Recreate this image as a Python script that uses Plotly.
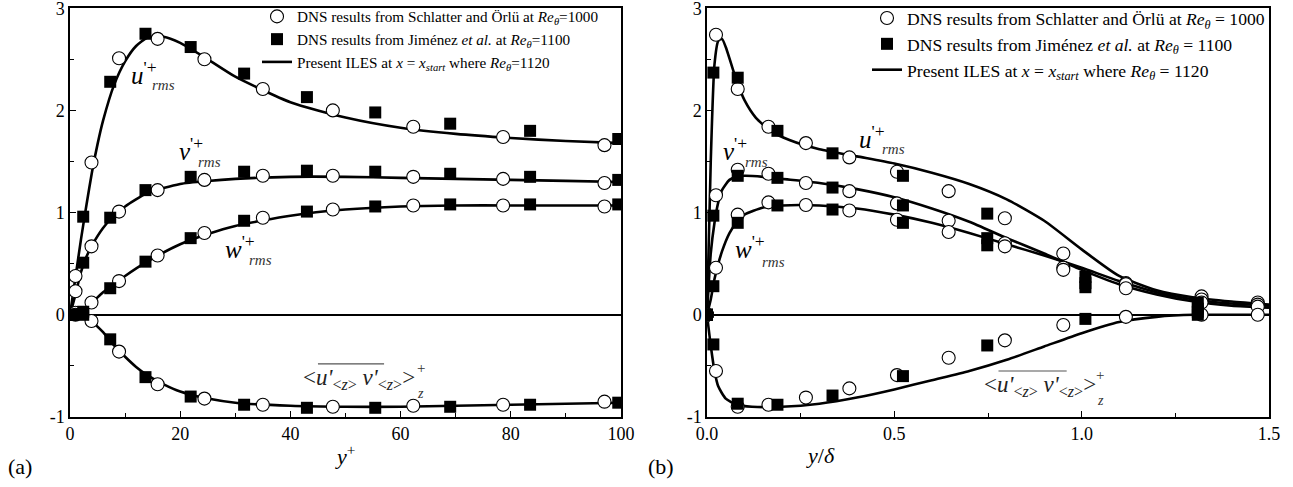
import plotly.graph_objects as go

# ---------------- (a) inner scaling, y+ ----------------
# Schlatter & Orlu DNS, Re_theta = 1000 (open circles)
yp_sch = [1.0, 3.9, 8.9, 15.9, 24.4, 35.0, 47.7, 62.3, 78.6, 97.0]
u_sch_a = [0.38, 1.49, 2.51, 2.70, 2.50, 2.21, 2.00, 1.84, 1.74, 1.66]
v_sch_a = [0.23, 0.67, 1.01, 1.22, 1.32, 1.36, 1.36, 1.35, 1.33, 1.29]
w_sch_a = [0.02, 0.12, 0.33, 0.58, 0.80, 0.95, 1.03, 1.07, 1.07, 1.06]
uv_sch_a = [0.0, -0.06, -0.36, -0.68, -0.82, -0.88, -0.90, -0.89, -0.88, -0.85]

# Jimenez et al. DNS, Re_theta = 1100 (filled squares)
yp_jim = [0.5, 2.4, 7.3, 13.7, 21.9, 31.6, 43.0, 55.4, 69.0, 83.5, 99.5]
u_jim_a = [0.0, 0.96, 2.28, 2.75, 2.62, 2.36, 2.13, 1.98, 1.87, 1.80, 1.72]
v_jim_a = [0.0, 0.51, 0.95, 1.22, 1.35, 1.40, 1.41, 1.40, 1.38, 1.35, 1.32]
w_jim_a = [0.0, 0.03, 0.26, 0.52, 0.75, 0.92, 1.01, 1.06, 1.08, 1.08, 1.08]
uv_jim_a = [0.0, 0.0, -0.24, -0.61, -0.80, -0.88, -0.91, -0.91, -0.90, -0.88, -0.86]

# Present ILES (solid lines)
yp_u_les = [0, 1, 2, 3, 4, 5, 6, 8, 10, 12, 14, 17, 20, 25, 30, 40, 50, 60, 70, 80, 90, 100]
u_les_a = [0, 0.37, 0.74, 1.08, 1.40, 1.67, 1.90, 2.25, 2.48, 2.63, 2.71, 2.72, 2.66,
           2.50, 2.33, 2.08, 1.93, 1.83, 1.77, 1.73, 1.70, 1.68]
yp_v_les = [0, 1, 2, 3, 4, 6, 8, 10, 14, 20, 25, 30, 40, 50, 60, 70, 80, 90, 100]
v_les_a = [0, 0.20, 0.42, 0.57, 0.68, 0.85, 0.97, 1.06, 1.19, 1.28, 1.31, 1.33, 1.35,
           1.35, 1.34, 1.33, 1.32, 1.31, 1.30]
yp_w_les = [0, 2, 4, 6, 8, 10, 14, 20, 25, 30, 40, 50, 60, 70, 80, 90, 100]
w_les_a = [0, 0.04, 0.12, 0.22, 0.30, 0.38, 0.52, 0.69, 0.79, 0.87, 0.97, 1.03, 1.06,
           1.07, 1.07, 1.07, 1.07]
yp_uv_les = [0, 2, 4, 6, 8, 10, 12, 14, 17, 20, 25, 30, 40, 50, 60, 70, 80, 90, 100]
uv_les_a = [0, -0.01, -0.07, -0.17, -0.30, -0.41, -0.51, -0.59, -0.68, -0.75, -0.82,
            -0.86, -0.89, -0.90, -0.90, -0.89, -0.88, -0.87, -0.86]

# ---------------- (b) outer scaling, y/delta ----------------
yd_sch = [0, 0.024, 0.082, 0.164, 0.264, 0.38, 0.507, 0.645, 0.795, 0.951, 1.118, 1.32, 1.47]
u_sch_b = [0, 2.74, 2.21, 1.84, 1.68, 1.54, 1.40, 1.21, 0.945, 0.60, 0.31, 0.18, 0.12]
v_sch_b = [0, 1.17, 1.42, 1.38, 1.29, 1.21, 1.09, 0.92, 0.70, 0.46, 0.30, 0.15, 0.10]
w_sch_b = [0, 0.46, 0.98, 1.10, 1.075, 1.02, 0.93, 0.81, 0.67, 0.44, 0.26, 0.12, 0.08]
uv_sch_b = [0, -0.55, -0.90, -0.88, -0.81, -0.72, -0.59, -0.42, -0.25, -0.10, -0.02, 0.0, 0.0]

yd_jim = [0, 0.017, 0.082, 0.188, 0.335, 0.523, 0.748, 1.01, 1.31]
u_jim_b = [0, 2.37, 2.32, 1.80, 1.58, 1.36, 0.99, 0.37, 0.12]
v_jim_b = [0, 0.97, 1.36, 1.34, 1.245, 1.07, 0.75, 0.31, 0.06]
w_jim_b = [0, 0.28, 0.90, 1.07, 1.03, 0.90, 0.68, 0.27, 0.03]
uv_jim_b = [0, -0.29, -0.87, -0.88, -0.79, -0.60, -0.30, -0.04, 0.0]

yd_u_les = [0, 0.01, 0.02, 0.03, 0.04, 0.05, 0.065, 0.08, 0.1, 0.13, 0.17, 0.22, 0.3,
            0.4, 0.5, 0.6, 0.7, 0.8, 0.9, 1.0, 1.1, 1.2, 1.3, 1.4, 1.5]
u_les_b = [0, 1.5, 2.45, 2.68, 2.70, 2.62, 2.45, 2.28, 2.10, 1.93, 1.80, 1.71, 1.62,
           1.55, 1.48, 1.39, 1.28, 1.13, 0.92, 0.64, 0.38, 0.24, 0.17, 0.13, 0.10]
yd_v_les = [0, 0.01, 0.02, 0.03, 0.04, 0.06, 0.08, 0.1, 0.15, 0.2, 0.3, 0.4, 0.5, 0.6,
            0.7, 0.8, 0.9, 1.0, 1.1, 1.2, 1.3, 1.4, 1.5]
v_les_b = [0, 0.6, 0.9, 1.1, 1.22, 1.32, 1.35, 1.36, 1.35, 1.33, 1.29, 1.23, 1.15, 1.04,
           0.91, 0.75, 0.60, 0.44, 0.30, 0.20, 0.13, 0.09, 0.07]
yd_w_les = [0, 0.01, 0.02, 0.04, 0.06, 0.08, 0.1, 0.15, 0.2, 0.3, 0.4, 0.5, 0.6, 0.7,
            0.8, 0.9, 1.0, 1.1, 1.2, 1.3, 1.4, 1.5]
w_les_b = [0, 0.15, 0.35, 0.62, 0.80, 0.91, 0.98, 1.05, 1.07, 1.07, 1.04, 0.98, 0.90,
           0.80, 0.69, 0.58, 0.46, 0.33, 0.22, 0.15, 0.11, 0.09]
yd_uv_les = [0, 0.01, 0.02, 0.03, 0.05, 0.08, 0.12, 0.2, 0.3, 0.4, 0.5, 0.6, 0.7, 0.8,
             0.9, 1.0, 1.1, 1.2, 1.3, 1.4, 1.5]
uv_les_b = [0, -0.30, -0.55, -0.70, -0.82, -0.88, -0.90, -0.90, -0.87, -0.81, -0.73,
            -0.64, -0.55, -0.44, -0.31, -0.18, -0.07, -0.02, 0.0, 0.0, 0.0]

# Legend texts
leg_sch_a = "DNS results from Schlatter and Örlü at <i>Re</i><sub><i>θ</i></sub>=1000"
leg_jim_a = "DNS results from Jiménez <i>et al.</i> at <i>Re</i><sub><i>θ</i></sub>=1100"
leg_les_a = ("Present ILES at <i>x</i> = <i>x</i><sub><i>start</i></sub> where "
             "<i>Re</i><sub><i>θ</i></sub>=1120")
leg_sch_b = "DNS results from Schlatter and Örlü at <i>Re</i><sub><i>θ</i></sub> = 1000"
leg_jim_b = "DNS results from Jiménez <i>et al.</i> at <i>Re</i><sub><i>θ</i></sub> = 1100"
leg_les_b = ("Present ILES at <i>x</i> = <i>x</i><sub><i>start</i></sub> where "
             "<i>Re</i><sub><i>θ</i></sub> = 1120")

FONT = "'Liberation Serif', 'Times New Roman', Times, serif"
LINE_W = 2.6

fig = go.Figure()


def add_panel(xa, ya, legend, les_sets, x_sch, sch_sets, x_jim, jim_sets, labels):
    # solid ILES lines first so the symbols sit on top
    for i, (xv, yv) in enumerate(les_sets):
        fig.add_trace(go.Scatter(
            x=xv, y=yv, mode="lines", line=dict(color="black", width=LINE_W, shape="spline",
                                                smoothing=0.6),
            xaxis=xa, yaxis=ya, legend=legend, name=labels[2], legendrank=3,
            showlegend=(i == 0), legendgroup=legend + "les"))
    for i, yv in enumerate(sch_sets):
        fig.add_trace(go.Scatter(
            x=x_sch, y=yv, mode="markers",
            marker=dict(symbol="circle", size=13, color="white",
                        line=dict(color="black", width=1.1)),
            xaxis=xa, yaxis=ya, legend=legend, name=labels[0], legendrank=1,
            showlegend=(i == 0), legendgroup=legend + "sch"))
    for i, yv in enumerate(jim_sets):
        fig.add_trace(go.Scatter(
            x=x_jim, y=yv, mode="markers",
            marker=dict(symbol="square", size=12, color="black", line=dict(width=0)),
            xaxis=xa, yaxis=ya, legend=legend, name=labels[1], legendrank=2,
            showlegend=(i == 0), legendgroup=legend + "jim"))


add_panel("x", "y", "legend",
          [(yp_u_les, u_les_a), (yp_v_les, v_les_a), (yp_w_les, w_les_a), (yp_uv_les, uv_les_a)],
          yp_sch, [u_sch_a, v_sch_a, w_sch_a, uv_sch_a],
          yp_jim, [u_jim_a, v_jim_a, w_jim_a, uv_jim_a],
          [leg_sch_a, leg_jim_a, leg_les_a])
add_panel("x2", "y2", "legend2",
          [(yd_u_les, u_les_b), (yd_v_les, v_les_b), (yd_w_les, w_les_b), (yd_uv_les, uv_les_b)],
          yd_sch, [u_sch_b, v_sch_b, w_sch_b, uv_sch_b],
          yd_jim, [u_jim_b, v_jim_b, w_jim_b, uv_jim_b],
          [leg_sch_b, leg_jim_b, leg_les_b])

W, H = 1293, 487
ydom = [1 - 417 / H, 1 - 8 / H]
axis_common = dict(showline=True, linecolor="black", linewidth=1.5, mirror=True,
                   ticks="inside", ticklen=6, tickwidth=1, tickcolor="black",
                   showgrid=False, ticklabeloverflow="allow", automargin=False,
                   tickfont=dict(family=FONT, size=18, color="black"))
yaxis_common = dict(axis_common, range=[-1, 3.002], tickvals=[-1, 0, 1, 2, 3],
                    ticktext=["-1", "0", "1", "2", "3"], zeroline=True,
                    zerolinecolor="black", zerolinewidth=1.5,
                    minor=dict(ticks="inside", ticklen=4, tickwidth=1, tickcolor="black",
                               dtick=0.5, showgrid=False),
                    domain=ydom)

fig.update_layout(
    width=W, height=H, margin=dict(l=0, r=0, t=0, b=0),
    paper_bgcolor="white", plot_bgcolor="white",
    font=dict(family=FONT, color="black"),
    xaxis=dict(axis_common, domain=[70 / W, 621 / W], range=[0, 100], dtick=20, tick0=0,
               zeroline=False, anchor="y",
               minor=dict(ticks="inside", ticklen=4, tickwidth=1, tickcolor="black",
                          dtick=10, showgrid=False)),
    yaxis=dict(yaxis_common, anchor="x"),
    xaxis2=dict(axis_common, domain=[707 / W, 1269 / W], range=[0, 1.5], dtick=0.5,
                tick0=0, tickformat=".1f", zeroline=False, anchor="y2",
                minor=dict(ticks="inside", ticklen=4, tickwidth=1, tickcolor="black",
                           dtick=0.25, showgrid=False)),
    yaxis2=dict(yaxis_common, anchor="x2"),
    legend=dict(x=257 / W, y=1.0, xanchor="left", yanchor="top",
                bgcolor="rgba(0,0,0,0)", borderwidth=0,
                font=dict(family=FONT, size=15.2, color="black"), tracegroupgap=0),
    legend2=dict(x=867 / W, y=1.0, xanchor="left", yanchor="top",
                 bgcolor="rgba(0,0,0,0)", borderwidth=0,
                 font=dict(family=FONT, size=17.6, color="black"), tracegroupgap=0),
    showlegend=True,
)

ann = []


def label(xref, yref, x, y, text, size, xanchor="center", color="black"):
    ann.append(dict(xref=xref, yref=yref, x=x, y=y, text=text, showarrow=False,
                    xanchor=xanchor, yanchor="middle",
                    font=dict(family=FONT, size=size, color=color)))


def rms_label(xref, yref, x, y, letter, dx, dy):
    label(xref, yref, x, y, "<i>%s</i><sup>'+</sup>" % letter, 25)
    label(xref, yref, x + dx, y - dy, "<i>rms</i>", 15, color="#333333")


# panel (a) labels
rms_label("x", "y", 13.5, 2.37, "u", 3.4, 0.12)
rms_label("x", "y", 22.0, 1.62, "v", 3.4, 0.12)
rms_label("x", "y", 30.8, 0.66, "w", 3.8, 0.12)
# panel (b) labels
rms_label("x2", "y2", 0.44, 1.74, "u", 0.058, 0.12)
rms_label("x2", "y2", 0.075, 1.62, "v", 0.058, 0.12)
rms_label("x2", "y2", 0.115, 0.66, "w", 0.062, 0.14)

uv_text = ("&lt;<i>u'</i><sub>&lt;<i>z</i>&gt;</sub> <i>v'</i>"
           "<sub>&lt;<i>z</i>&gt;</sub>&gt;")
label("x", "y", 42.0, -0.63, uv_text, 23, xanchor="left", color="#222222")
label("x", "y", 63.7, -0.52, "+", 15, color="#333333")
label("x", "y", 63.7, -0.77, "<i>z</i>", 14, color="#333333")
label("x2", "y2", 0.735, -0.70, uv_text, 23, xanchor="left", color="#222222")
label("x2", "y2", 1.05, -0.59, "+", 15, color="#333333")
label("x2", "y2", 1.05, -0.84, "<i>z</i>", 14, color="#333333")

# axis titles and panel tags
label("paper", "paper", 345 / W, 1 - 455 / H, "<i>y</i><sup>+</sup>", 22)
label("paper", "paper", 820 / W, 1 - 455 / H, "<i>y</i>/<i>δ</i>", 22)
label("paper", "paper", 20 / W, 1 - 466 / H, "(a)", 22)
label("paper", "paper", 661 / W, 1 - 466 / H, "(b)", 22)

fig.update_layout(annotations=ann)

# overbars of the Reynolds-shear-stress labels
fig.add_shape(type="line", xref="x", yref="y", x0=45.0, x1=57.0, y0=-0.48, y1=-0.48,
              line=dict(color="#555555", width=1.2))
fig.add_shape(type="line", xref="x2", yref="y2", x0=0.778, x1=0.96, y0=-0.55, y1=-0.55,
              line=dict(color="#555555", width=1.2))

fig.write_html("out.html")
